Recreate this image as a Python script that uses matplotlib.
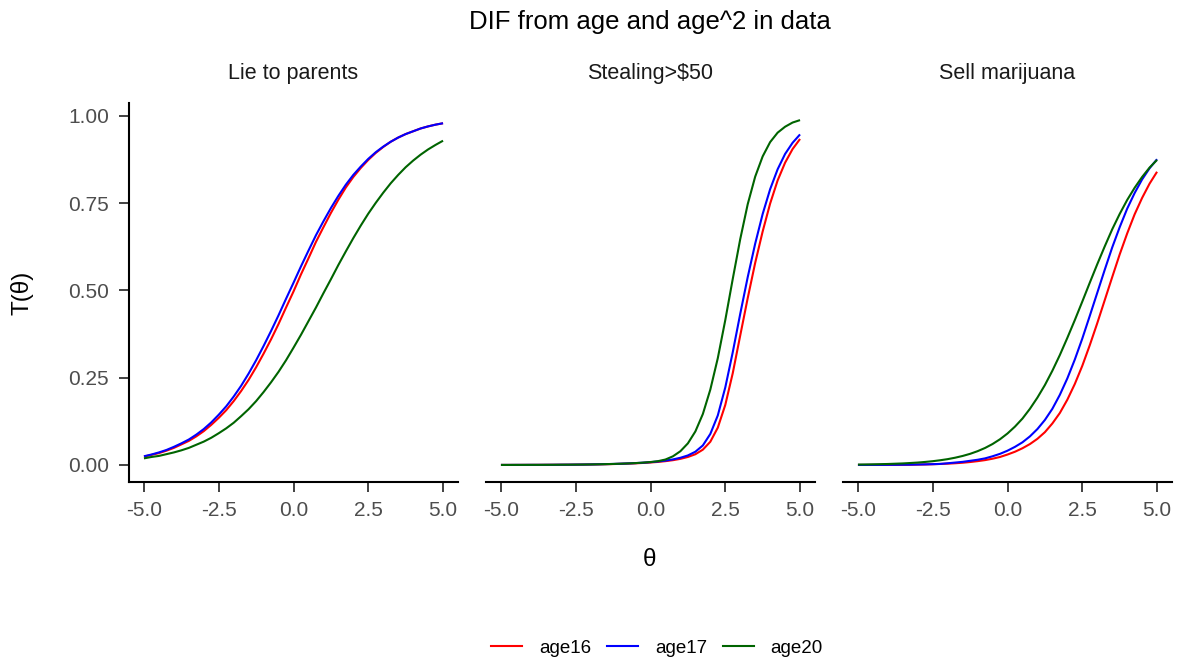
import matplotlib
matplotlib.use("Agg")
import matplotlib.pyplot as plt
from matplotlib.lines import Line2D

plt.rcParams['font.family'] = ['Liberation Sans', 'DejaVu Sans']

theta = [-5.0, -4.75, -4.5, -4.25, -4.0, -3.75, -3.5, -3.25, -3.0, -2.75,
         -2.5, -2.25, -2.0, -1.75, -1.5, -1.25, -1.0, -0.75, -0.5, -0.25,
         0.0, 0.25, 0.5, 0.75, 1.0, 1.25, 1.5, 1.75, 2.0, 2.25, 2.5,
         2.75, 3.0, 3.25, 3.5, 3.75, 4.0, 4.25, 4.5, 4.75, 5.0]

items = ["Lie to parents", "Stealing>$50", "Sell marijuana"]
groups = ["age16", "age17", "age20"]
colors = ["#FF0000", "#0000FF", "#006400"]

# Lie to parents
lie_age16 = [0.024, 0.029, 0.034, 0.041, 0.049, 0.059, 0.069, 0.082, 0.097, 0.115,
             0.135, 0.157, 0.183, 0.212, 0.244, 0.280, 0.319, 0.360, 0.404, 0.451,
             0.497, 0.546, 0.592, 0.639, 0.681, 0.722, 0.760, 0.795, 0.825, 0.851, 0.874,
             0.894, 0.911, 0.926, 0.938, 0.948, 0.956, 0.964, 0.970, 0.975, 0.979]
lie_age17 = [0.025, 0.030, 0.036, 0.043, 0.052, 0.062, 0.073, 0.087, 0.103, 0.122,
             0.144, 0.168, 0.196, 0.227, 0.262, 0.300, 0.341, 0.384, 0.429, 0.476,
             0.522, 0.569, 0.614, 0.658, 0.698, 0.736, 0.771, 0.803, 0.831, 0.855, 0.877,
             0.896, 0.912, 0.926, 0.938, 0.948, 0.956, 0.964, 0.970, 0.975, 0.979]
lie_age20 = [0.019, 0.023, 0.026, 0.031, 0.036, 0.042, 0.049, 0.058, 0.067, 0.078,
             0.091, 0.105, 0.121, 0.140, 0.160, 0.183, 0.209, 0.237, 0.267, 0.300,
             0.336, 0.373, 0.412, 0.451, 0.492, 0.532, 0.573, 0.612, 0.650, 0.686, 0.720,
             0.751, 0.780, 0.807, 0.831, 0.853, 0.872, 0.889, 0.904, 0.917, 0.929]

# Stealing>$50
steal_age16 = [0.0002, 0.0002, 0.0002, 0.0003, 0.0003, 0.0004, 0.0005, 0.0006, 0.0007, 0.0008,
               0.0010, 0.0012, 0.0015, 0.0018, 0.0022, 0.0027, 0.0033, 0.0040, 0.0048, 0.0059,
               0.0072, 0.0088, 0.0110, 0.0138, 0.0176, 0.0230, 0.0308, 0.0439, 0.0666, 0.107, 0.172,
               0.263, 0.371, 0.478, 0.579, 0.669, 0.749, 0.815, 0.866, 0.905, 0.934]
steal_age17 = [0.0002, 0.0002, 0.0003, 0.0003, 0.0004, 0.0004, 0.0005, 0.0006, 0.0008, 0.0009,
               0.0011, 0.0013, 0.0016, 0.0020, 0.0025, 0.0030, 0.0037, 0.0045, 0.0054, 0.0066,
               0.0081, 0.0101, 0.0126, 0.0160, 0.0207, 0.0274, 0.0380, 0.0560, 0.0890, 0.142, 0.222,
               0.323, 0.433, 0.538, 0.634, 0.719, 0.790, 0.847, 0.891, 0.923, 0.947]
steal_age20 = [0.0002, 0.0002, 0.0003, 0.0003, 0.0004, 0.0004, 0.0005, 0.0006, 0.0008, 0.0009,
               0.0011, 0.0013, 0.0016, 0.0020, 0.0025, 0.0030, 0.0037, 0.0045, 0.0055, 0.0068,
               0.0085, 0.0110, 0.0157, 0.0249, 0.0395, 0.0620, 0.0961, 0.146, 0.216, 0.306, 0.415,
               0.533, 0.647, 0.747, 0.826, 0.884, 0.925, 0.952, 0.969, 0.981, 0.988]

# Sell marijuana
sell_age16 = [0.0001, 0.0001, 0.0002, 0.0002, 0.0003, 0.0004, 0.0005, 0.0007, 0.0012, 0.0016,
              0.0022, 0.0030, 0.0038, 0.0050, 0.0065, 0.0085, 0.0110, 0.0140, 0.0180, 0.0230,
              0.0300, 0.0380, 0.0480, 0.0600, 0.0750, 0.0940, 0.119, 0.149, 0.187, 0.232, 0.284,
              0.343, 0.406, 0.472, 0.538, 0.603, 0.663, 0.718, 0.765, 0.806, 0.840]
sell_age17 = [0.0002, 0.0002, 0.0003, 0.0003, 0.0005, 0.0006, 0.0008, 0.0010, 0.0014, 0.0018,
              0.0024, 0.0031, 0.0050, 0.0070, 0.0090, 0.0120, 0.0150, 0.0190, 0.0250, 0.0320,
              0.0410, 0.0520, 0.0650, 0.0820, 0.103, 0.129, 0.161, 0.201, 0.248, 0.302, 0.362,
              0.427, 0.493, 0.559, 0.623, 0.681, 0.734, 0.779, 0.818, 0.850, 0.876]
sell_age20 = [0.0012, 0.0015, 0.0019, 0.0024, 0.0029, 0.0037, 0.0045, 0.0057, 0.0070, 0.0088,
              0.0109, 0.0136, 0.0168, 0.0209, 0.0259, 0.0320, 0.0396, 0.0488, 0.0601, 0.0738,
              0.0903, 0.110, 0.133, 0.161, 0.193, 0.229, 0.270, 0.315, 0.364, 0.415, 0.468,
              0.522, 0.575, 0.626, 0.675, 0.719, 0.759, 0.794, 0.825, 0.852, 0.874]

panels = [
    [lie_age16, lie_age17, lie_age20],
    [steal_age16, steal_age17, steal_age20],
    [sell_age16, sell_age17, sell_age20],
]

W, H = 1180, 664
fig = plt.figure(figsize=(W / 100, H / 100), dpi=100)

lefts = [129, 486, 843]
ax_w = 329
ax_top, ax_bot = 103, 482

for i, series in enumerate(panels):
    ax = fig.add_axes([lefts[i] / W, 1 - ax_bot / H, ax_w / W, (ax_bot - ax_top) / H])
    for vals, col in zip(series, colors):
        ax.plot(theta, vals, color=col, lw=1.5, solid_capstyle='butt')
    ax.set_xlim(-5.5, 5.5)
    ax.set_ylim(-0.0487, 1.037)
    ax.set_xticks([-5, -2.5, 0, 2.5, 5])
    ax.set_xticklabels(["-5.0", "-2.5", "0.0", "2.5", "5.0"])
    for s in ["top", "right"]:
        ax.spines[s].set_visible(False)
    ax.spines["bottom"].set_linewidth(1.5)
    ax.spines["left"].set_linewidth(1.5)
    ax.tick_params(axis='x', length=7.5, width=1.3, color='#333333', pad=6,
                   labelsize=15, labelcolor='#4D4D4D')
    if i == 0:
        ax.set_yticks([0, 0.25, 0.5, 0.75, 1.0])
        ax.set_yticklabels(["0.00", "0.25", "0.50", "0.75", "1.00"])
        ax.tick_params(axis='y', length=7.5, width=1.3, color='#333333', pad=7,
                       labelsize=15, labelcolor='#4D4D4D')
    else:
        ax.spines["left"].set_visible(False)
        ax.set_yticks([])
    ax.patch.set_alpha(0)
    fig.text((lefts[i] + ax_w / 2) / W, 1 - 73 / H, items[i], ha='center', va='center',
             fontsize=15.5, color='#1A1A1A')

fig.text(650 / W, 1 - 22 / H, "DIF from age and age^2 in data", ha='center', va='center',
         fontsize=18.5)
fig.text(650 / W, 1 - 560 / H, "θ", ha='center', va='center', fontsize=17.5)
fig.text(22 / W, 1 - 293 / H, "T(θ)", ha='center', va='center', rotation=90, fontsize=17.5)

handles = [Line2D([], [], color=c, lw=1.5) for c in colors]
fig.legend(handles, groups, loc='center', bbox_to_anchor=(657 / W, 1 - 648 / H), ncol=3,
           frameon=False, fontsize=13.5, handlelength=1.65, handletextpad=0.9,
           columnspacing=0.85)

fig.savefig("out.png", dpi=100)
